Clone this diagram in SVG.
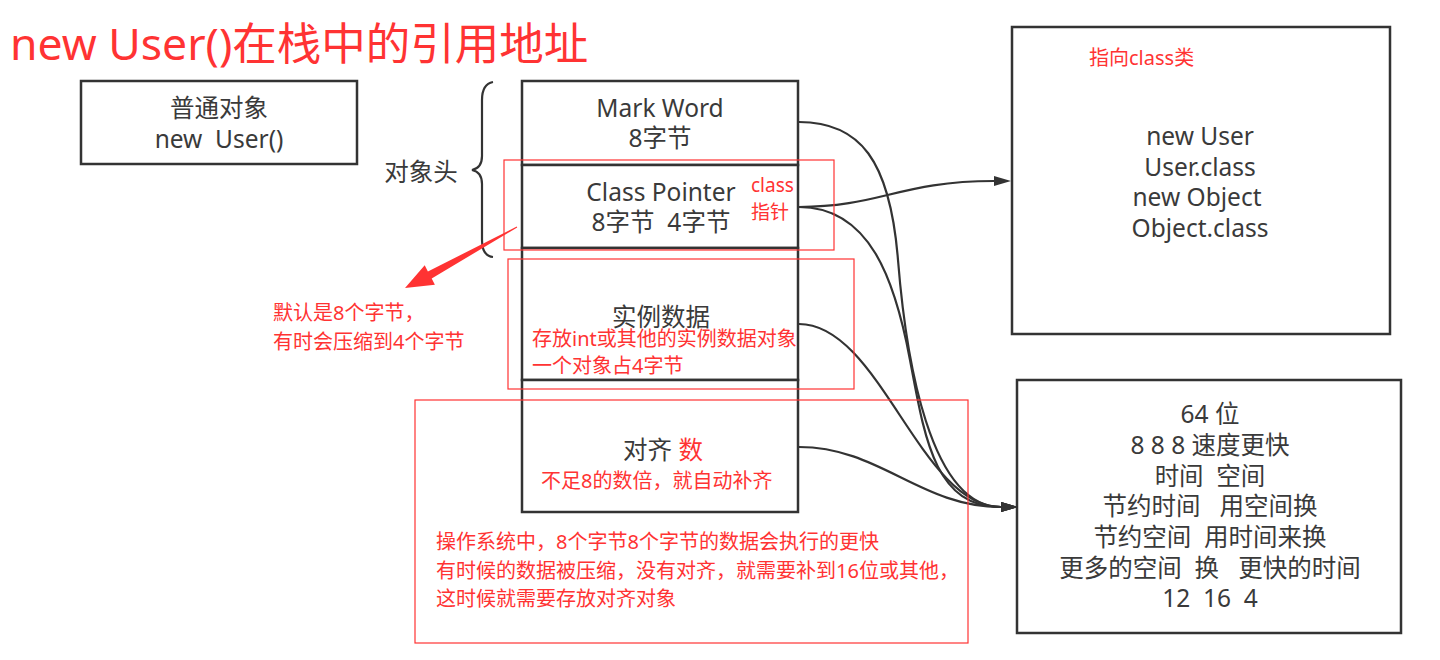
<svg xmlns="http://www.w3.org/2000/svg" width="1440" height="660" viewBox="0 0 1440 660">
<style>
.box{fill:#fff;stroke:#333;stroke-width:2.5}
.rbox{fill:none;stroke:#f33;stroke-width:1.2}
.t{font-family:"Noto Sans","Noto Sans CJK SC",sans-serif;font-size:24.5px;fill:#3a3a3a;text-anchor:middle;white-space:pre}
.r{font-family:"Noto Sans","Noto Sans CJK SC",sans-serif;font-size:20px;fill:#f33;white-space:pre}
.c{fill:none;stroke:#333;stroke-width:2.2}
</style>
<defs>
<marker id="ah" markerUnits="userSpaceOnUse" markerWidth="18" markerHeight="12" refX="0" refY="5" orient="auto">
<path d="M0,0 L17,5 L0,10 z" fill="#333"/>
</marker>
</defs>
<rect width="1440" height="660" fill="#fff"/>
<text id="title" x="10" y="60" style="font-family:'Noto Sans','Noto Sans CJK SC',sans-serif;font-size:44.5px;fill:#f33">new User()在栈中的引用地址</text>

<g id="normal-object">
<rect class="box" x="81" y="81" width="276" height="83"/>
<text class="t" x="219" y="117">普通对象</text>
<text class="t" x="219" y="148">new  User()</text>
</g>

<g id="header-brace">
<path class="c" d="M493,82 Q482,84 482,100 L482,156 Q482,168 472,170 Q482,172 482,184 L482,240 Q482,256 493,257"/>
<text class="t" x="421" y="181">对象头</text>
</g>

<g id="mark-word">
<rect class="box" x="522" y="81" width="276" height="84"/>
<text class="t" x="660" y="117">Mark Word</text>
<text class="t" x="660" y="147">8字节</text>
</g>

<g id="class-pointer">
<rect class="box" x="522" y="165" width="276" height="83"/>
<text class="t" x="661" y="201">Class Pointer</text>
<text class="t" x="661" y="231">8字节  4字节</text>
</g>

<g id="instance-data">
<rect class="box" x="522" y="248" width="276" height="132"/>
<text class="t" x="661" y="326">实例数据</text>
</g>

<g id="padding">
<rect class="box" x="522" y="380" width="276" height="132"/>
<text class="t" x="663" y="459"><tspan>对齐 </tspan><tspan style="fill:#f33">数</tspan></text>
</g>

<g id="class-box">
<rect class="box" x="1012" y="27" width="378" height="307"/>
<text class="t" x="1200" y="145">new User</text>
<text class="t" x="1200" y="176">User.class</text>
<text class="t" x="1197" y="206">new Object</text>
<text class="t" x="1200" y="237">Object.class</text>
</g>

<g id="note-box">
<rect class="box" x="1017" y="380" width="384" height="253"/>
<text class="t" x="1210" y="423">64 位</text>
<text class="t" x="1210" y="454">8 8 8 速度更快</text>
<text class="t" x="1210" y="485">时间  空间</text>
<text class="t" x="1210" y="515">节约时间   用空间换</text>
<text class="t" x="1210" y="546">节约空间  用时间来换</text>
<text class="t" x="1210" y="577">更多的空间  换   更快的时间</text>
<text class="t" x="1210" y="607">12  16  4</text>
</g>

<g id="connectors">
<path class="c" d="M799,122 C860,122 890,160 898,260 S 930,507 1001,507" marker-end="url(#ah)"/>
<path class="c" d="M799,207 C870,207 895,280 910,360 S 935,507 1001,507" marker-end="url(#ah)"/>
<path class="c" d="M799,324 C880,324 920,507 1001,507" marker-end="url(#ah)"/>
<path class="c" d="M799,447 C880,447 920,507 1001,507" marker-end="url(#ah)"/>
<path class="c" d="M799,207 C880,207 900,181 994,181" marker-end="url(#ah)"/>
</g>

<g id="annotations">
<rect class="rbox" x="504" y="160" width="330" height="90"/>
<rect class="rbox" x="508" y="259" width="346" height="130"/>
<rect class="rbox" x="415" y="400" width="553" height="243"/>
<polygon fill="#f33" points="516.8,226.6 427.9,271.5 424.7,265.3 405,288 434.9,284.7 431.7,278.5 517.2,227.4"/>
<text class="r" x="751" y="192" style="font-size:19px">class</text>
<text class="r" x="751" y="219" style="font-size:19px">指针</text>
<text class="r" x="273" y="320">默认是8个字节，</text>
<text class="r" x="273" y="349">有时会压缩到4个字节</text>
<text class="r" x="532" y="346">存放int或其他的实例数据对象</text>
<text class="r" x="532" y="373">一个对象占4字节</text>
<text class="r" x="541" y="488">不足8的数倍，就自动补齐</text>
<text class="r" x="436" y="549">操作系统中，8个字节8个字节的数据会执行的更快</text>
<text class="r" x="436" y="578">有时候的数据被压缩，没有对齐，就需要补到16位或其他，</text>
<text class="r" x="436" y="606">这时候就需要存放对齐对象</text>
<text class="r" x="1089" y="65">指向class类</text>
</g>
</svg>
